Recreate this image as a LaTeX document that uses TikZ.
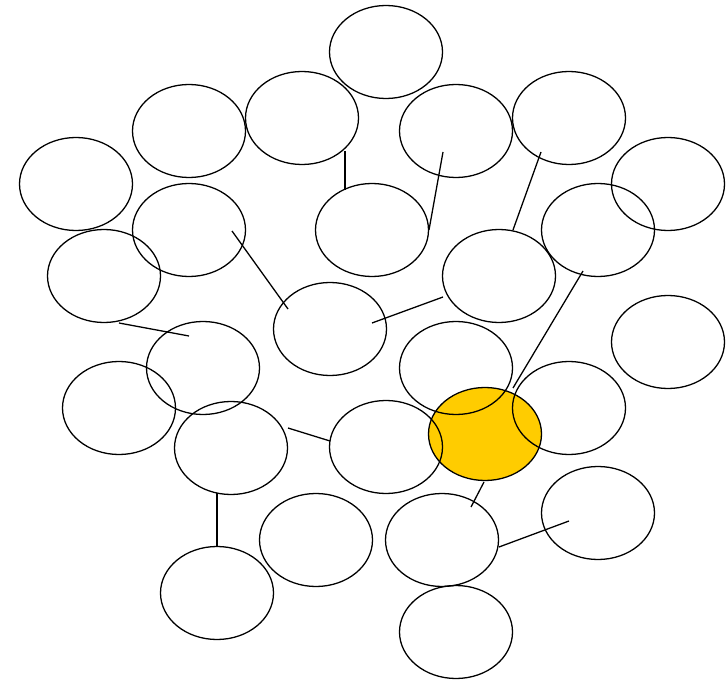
\documentclass[tikz,border=0pt]{standalone}
\usepackage{xcolor}
\definecolor{hilite}{RGB}{255,204,0}
\usepackage{tikz}
\usetikzlibrary{shapes.geometric}

\begin{document}
\begin{tikzpicture}[
  x=0.03cm,y=-0.03cm,
  oval/.style={ellipse,draw=black,line width=1.1pt,
    minimum width=3.39cm,minimum height=2.79cm,inner sep=0pt},
  link/.style={line width=1.1pt,color=black}
]
  \useasboundingbox (0,0) rectangle (726,680);
  % highlighted one first, outlines of its neighbours lie over it
  \node[oval,fill=hilite] (hl) at (485,434) {};
  \node[oval] (top) at (386,52) {};
  \node[oval] (a1) at (189,131) {};
  \node[oval] (a2) at (302,118) {};
  \node[oval] (a3) at (456,131) {};
  \node[oval] (a4) at (569,118) {};
  \node[oval] (b1) at (76,184) {};
  \node[oval] (b2) at (668,184) {};
  \node[oval] (c1) at (189,230) {};
  \node[oval] (c2) at (372,230) {};
  \node[oval] (c3) at (598,230) {};
  \node[oval] (d1) at (104,276) {};
  \node[oval] (d2) at (499,276) {};
  \node[oval] (m) at (330,329) {};
  \node[oval] (e1) at (668,342) {};
  \node[oval] (f1) at (203,368) {};
  \node[oval] (f2) at (456,368) {};
  \node[oval] (g1) at (119,408) {};
  \node[oval] (g2) at (569,408) {};
  \node[oval] (h1) at (231,448) {};
  \node[oval] (h2) at (386,447) {};
  \node[oval] (k1) at (316,540) {};
  \node[oval] (k2) at (442,540) {};
  \node[oval] (k3) at (598,513) {};
  \node[oval] (l1) at (217,593) {};
  \node[oval] (bot) at (456,632) {};
  % line ends
  \coordinate (a2s) at (345,151);
  \coordinate (c2n) at (345,190);
  \coordinate (a3s) at (443,152);
  \coordinate (c2e) at (429,230);
  \coordinate (a4s) at (541,152);
  \coordinate (d2n) at (513,230);
  \coordinate (c1s) at (232,231);
  \coordinate (mn) at (288,309);
  \coordinate (me) at (372,323);
  \coordinate (d2w) at (443,297);
  \coordinate (c3s) at (583,271);
  \coordinate (hln) at (513,388);
  \coordinate (d1s) at (119,323);
  \coordinate (f1n) at (189,336);
  \coordinate (h1e) at (288,428);
  \coordinate (h2w) at (330,441);
  \coordinate (h1s) at (217,493);
  \coordinate (l1n) at (217,547);
  \coordinate (hls) at (484,482);
  \coordinate (k2n) at (471,507);
  \coordinate (k2e) at (499,547);
  \coordinate (k3w) at (569,521);
  \draw[link] (a2s)--(c2n);
  \draw[link] (a3s)--(c2e);
  \draw[link] (a4s)--(d2n);
  \draw[link] (c1s)--(mn);
  \draw[link] (me)--(d2w);
  \draw[link] (c3s)--(hln);
  \draw[link] (d1s)--(f1n);
  \draw[link] (h1e)--(h2w);
  \draw[link] (h1s)--(l1n);
  \draw[link] (hls)--(k2n);
  \draw[link] (k2e)--(k3w);
\end{tikzpicture}
\end{document}
